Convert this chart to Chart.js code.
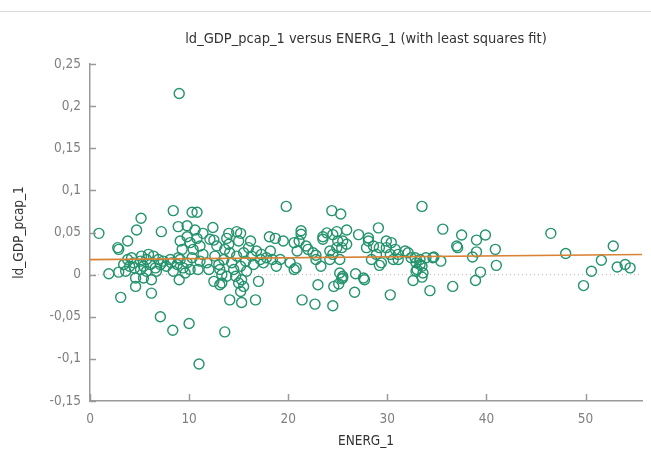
<!DOCTYPE html>
<html>
<head>
<meta charset="utf-8">
<script src="https://cdn.jsdelivr.net/npm/chart.js@4"></script>
<style>
html,body{margin:0;padding:0;background:#fff;}
#wrap{position:relative;width:651px;height:453px;}
#topline{position:absolute;left:0;top:11px;width:651px;height:0;border-top:1px solid #dcdcdc;}
canvas{display:block;}
</style>
</head>
<body>
<div id="wrap"><div id="topline"></div><canvas id="c" width="651" height="453"></canvas></div>
<script>
// ENERG_1 values (x) and ld_GDP_pcap_1 values (y)
const energ = [
  0.9, 1.9, 2.9, 2.8, 2.9, 3.8, 3.1, 4.7, 5.15, 4.6, 4.6, 6.2, 7.1, 7.2, 8.4, 8.35, 9.0, 10.0, 10.3, 10.8,
  11.0, 8.9, 9.8, 9.1, 12.4, 13.6, 14.1, 15.3, 16.7, 15.2, 12.5, 13.1, 17.0, 16.2, 18.1, 18.7, 18.8, 14.0, 14.8, 15.2,
  3.4, 3.8, 4.0, 4.4, 4.5, 4.2, 5.1, 5.2, 5.4, 5.7, 5.9, 6.1, 6.4, 6.6, 6.9, 6.7, 7.1, 7.4, 7.7, 8.1,
  5.1, 3.6, 5.7, 6.2, 5.4,
  8.8, 9.1, 9.4, 9.8, 10.1, 10.3, 10.4, 10.1, 10.8, 11.1, 11.4, 11.4, 11.8, 12.1, 12.0, 10.9, 11.1, 10.6, 9.8, 9.3,
  8.9, 8.4, 8.2, 9.6,
  12.5, 12.8, 12.6, 13.0, 13.1, 13.3, 13.5, 13.6, 13.8, 14.0, 14.1, 14.3, 14.5, 14.7, 14.8, 15.0, 15.2, 15.3, 15.5, 15.7,
  15.8, 16.0, 16.3, 16.5, 16.8, 17.2, 17.3, 17.5, 17.8, 18.2, 18.4, 13.3, 13.8, 15.0, 15.5, 19.2, 20.2, 9.0,
  19.8, 24.4, 25.3, 33.5, 35.6, 37.5, 39.9, 39.0, 37.0, 37.1, 40.9, 39.0, 38.6, 41.0, 39.4, 38.9, 36.6, 34.3, 30.3, 26.7,
  24.5, 22.7, 21.4, 23.0, 24.6, 25.1, 25.4, 26.8, 27.6, 27.7, 32.6, 33.5, 46.5, 48.0, 52.8, 51.6, 50.6, 49.8, 53.2, 54.0,
  54.5, 35.4, 34.7, 33.9, 33.3, 33.5, 33.6, 33.0,
  21.3, 21.3, 19.5, 20.6, 21.1, 21.8, 20.9, 22.0, 22.5, 22.8,
  23.5, 23.9, 23.5, 24.5, 24.9, 25.0, 25.5, 25.9, 25.9, 25.4, 24.9, 24.2, 24.5,
  25.2, 24.2, 23.3, 22.8, 20.8, 20.6, 25.2, 25.5, 25.5,
  27.1, 28.1, 28.1, 29.1, 28.6, 27.9, 29.2, 28.9, 28.4, 29.4, 29.2,
  29.9, 30.4, 29.9, 30.8, 30.3, 31.1, 30.6, 31.1, 31.8, 32.1, 32.4, 32.8, 32.9, 33.3, 34.6, 32.9
];
const gdp = [
  0.049, 0.001, 0.003, 0.032, 0.030, 0.040, -0.027, 0.053, 0.067, -0.004, -0.014, -0.022, -0.050, 0.051, 0.076, -0.066, -0.006, -0.058, 0.074, 0.074,
  -0.106, 0.057, 0.058, 0.040, 0.056, -0.068, -0.030, -0.033, -0.030, -0.020, -0.008, -0.012, -0.008, 0.040, 0.045, 0.043, 0.010, 0.049, 0.051, 0.049,
  0.012, 0.018, 0.010, 0.014, 0.008, 0.020, 0.016, 0.022, 0.010, 0.018, 0.024, 0.012, 0.022, 0.008, 0.018, 0.004, 0.012, 0.016, 0.010, 0.018,
  0.006, 0.004, 0.004, -0.006, -0.004,
  0.012, 0.018, 0.008, 0.014, 0.006, 0.020, 0.030, 0.038, 0.043, 0.034, 0.049, 0.024, 0.014, 0.042, 0.006, 0.006, 0.016, 0.053, 0.045, 0.030,
  0.020, 0.004, 0.014, 0.002,
  0.041, 0.034, 0.022, 0.012, 0.006, 0.000, 0.018, 0.030, 0.043, 0.036, 0.026, 0.014, 0.006, -0.002, 0.022, 0.040, 0.010, -0.006, 0.026, 0.016,
  0.004, 0.032, 0.022, 0.012, 0.028, 0.018, 0.024, 0.014, 0.020, 0.028, 0.018, -0.010, -0.002, -0.010, -0.014, 0.018, 0.014, 0.215,
  0.081, 0.076, 0.072, 0.081, 0.054, 0.047, 0.047, 0.041, 0.034, 0.032, 0.030, 0.027, 0.021, 0.011, 0.003, -0.007, -0.014, -0.019, -0.024, -0.021,
  -0.037, -0.035, -0.030, -0.012, -0.014, -0.011, -0.005, 0.001, -0.004, -0.006, -0.007, -0.003, 0.049, 0.025, 0.034, 0.017, 0.004, -0.013, 0.009, 0.012,
  0.008, 0.016, 0.021, 0.020, 0.018, 0.010, 0.002, 0.006,
  0.052, 0.048, 0.040, 0.038, 0.040, 0.034, 0.028, 0.030, 0.026, 0.023,
  0.045, 0.0495, 0.042, 0.0475, 0.051, 0.040, 0.040, 0.053, 0.036, 0.032, 0.032, 0.028, 0.024,
  0.018, 0.018, 0.010, 0.018, 0.008, 0.006, 0.002, -0.002, -0.004,
  0.0475, 0.0435, 0.040, 0.0555, 0.034, 0.032, 0.032, 0.024, 0.018, 0.014, 0.011,
  0.040, 0.038, 0.032, 0.030, 0.024, 0.024, 0.018, 0.018, 0.028, 0.026, 0.020, 0.020, 0.014, 0.012, 0.020, 0.004
];
// least squares fit line end points
const fitX = [0, 55.7];
const fitY = [0.0178, 0.0238];
// axis limits and ticks
const xLimits = [0, 55.7];
const yLimits = [-0.15, 0.25];
const xTickValues = [0, 10, 20, 30, 40, 50];
const yTickValues = [-0.15, -0.1, -0.05, 0, 0.05, 0.1, 0.15, 0.2, 0.25];

const pts = energ.map((x, i) => ({x: x, y: gdp[i]}));
const fitPts = fitX.map((x, i) => ({x: x, y: fitY[i]}));
const zeroPts = xLimits.map(x => ({x: x, y: 0}));

const fmt = v => String(Math.round(v * 100) / 100).replace('.', ',');
const axisGray = '#9a9a9a';
const labelGray = '#808080';
const FONT = '"DejaVu Sans Condensed", "DejaVu Sans", sans-serif';

const innerTicks = {
  id: 'innerTicks',
  afterDatasetsDraw(chart) {
    const ctx = chart.ctx;
    const xs = chart.scales.x, ys = chart.scales.y;
    ctx.save();
    ctx.strokeStyle = axisGray;
    ctx.lineWidth = 1.5;
    ctx.beginPath();
    yTickValues.forEach(v => {
      const py = Math.round(ys.getPixelForValue(v)) + 0.5;
      ctx.moveTo(xs.left, py);
      ctx.lineTo(xs.left + 6, py);
    });
    xTickValues.forEach(v => {
      const px = Math.round(xs.getPixelForValue(v)) + 0.5;
      ctx.moveTo(px, ys.bottom);
      ctx.lineTo(px, ys.bottom - 7);
    });
    ctx.stroke();
    ctx.restore();
  }
};

new Chart(document.getElementById('c'), {
  type: 'scatter',
  data: {
    datasets: [
      {
        label: 'zero',
        data: zeroPts,
        showLine: true,
        borderColor: '#c4b0b0',
        borderWidth: 1,
        borderDash: [1, 3],
        pointRadius: 0,
        order: 3
      },
      {
        label: 'ld_GDP_pcap_1',
        data: pts,
        pointRadius: 5,
        pointHoverRadius: 5,
        pointBorderWidth: 1.4,
        borderColor: '#23936c',
        backgroundColor: 'rgba(0,0,0,0)',
        order: 2
      },
      {
        label: 'fit',
        data: fitPts,
        showLine: true,
        borderColor: '#d98135',
        borderWidth: 1.6,
        pointRadius: 0,
        order: 1
      }
    ]
  },
  options: {
    responsive: false,
    animation: false,
    events: [],
    layout: {padding: {left: 0, right: 9, top: 0, bottom: 0}},
    plugins: {
      legend: {display: false},
      tooltip: {enabled: false},
      title: {
        display: true,
        fullSize: false,
        text: 'ld_GDP_pcap_1 versus ENERG_1 (with least squares fit)',
        color: '#333',
        font: {family: FONT, size: 14.5, weight: 'normal'},
        padding: {top: 31, bottom: 15.6}
      }
    },
    scales: {
      x: {
        type: 'linear',
        min: xLimits[0],
        max: xLimits[1],
        afterBuildTicks: s => { s.ticks = xTickValues.map(v => ({value: v})); },
        afterFit: s => { s.height = 52; },
        ticks: {
          color: labelGray,
          font: {family: FONT, size: 13.5},
          padding: 10,
          callback: v => fmt(v)
        },
        grid: {display: false, drawTicks: false},
        border: {display: true, color: axisGray, width: 1.5},
        title: {
          display: true,
          text: 'ENERG_1',
          color: '#333',
          font: {family: FONT, size: 13.5},
          padding: {top: 0, bottom: 3}
        }
      },
      y: {
        type: 'linear',
        min: yLimits[0],
        max: yLimits[1],
        afterBuildTicks: s => { s.ticks = yTickValues.map(v => ({value: v})); },
        afterFit: s => { s.width = 90; },
        ticks: {
          color: labelGray,
          font: {family: FONT, size: 13.5},
          padding: 9,
          callback: v => fmt(v)
        },
        grid: {display: false, drawTicks: false},
        border: {display: true, color: axisGray, width: 1.5},
        title: {
          display: true,
          text: 'ld_GDP_pcap_1',
          color: '#333',
          font: {family: FONT, size: 13.5},
          padding: {top: 11, bottom: 0}
        }
      }
    }
  },
  plugins: [innerTicks]
});
</script>
</body>
</html>
